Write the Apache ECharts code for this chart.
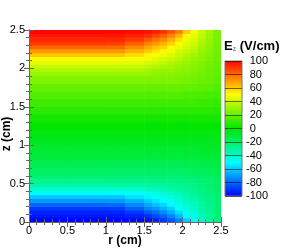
<!DOCTYPE html>
<html><head><meta charset="utf-8">
<script src="https://cdn.jsdelivr.net/npm/echarts@6/dist/echarts.min.js"></script>
<style>html,body{margin:0;padding:0;background:#fff}#c{width:282px;height:250px}</style>
</head><body><div id="c"></div>
<script>
const rTicks = [0, 0.5, 1, 1.5, 2, 2.5];
const zTicks = [0, 0.5, 1, 1.5, 2, 2.5];
const cbTicks = [-100, -80, -60, -40, -20, 0, 20, 40, 60, 80, 100];
const colorStops = ['#0000ff', '#00ffff', '#00e600', '#ffff00', '#ff0000'];
const rEdges = [0, 0.5, 1, 1.25, 1.5, 1.6, 1.7, 1.8, 1.9, 2, 2.1, 2.2, 2.3, 2.4, 2.5];
const zEdges = [0, 0.05, 0.1, 0.15, 0.2, 0.25, 0.3, 0.35, 0.4, 0.45, 0.5, 0.55, 0.6,
  0.7, 0.8, 0.9, 1.0, 1.1, 1.2, 1.3, 1.4, 1.5, 1.6, 1.7, 1.8, 1.9,
  1.95, 2.0, 2.05, 2.1, 2.15, 2.2, 2.25, 2.3, 2.35, 2.4, 2.45, 2.5];
// Ez (V/cm), rows from z=0 upwards, columns follow rEdges cells
const Ez = [
  [-99,-99,-99,-98,-97,-94,-90,-83,-75,-60,-48,-39,-31,-24],
  [-96,-96,-96,-94,-91,-86,-81,-74,-65,-51,-45,-37,-30,-24],
  [-93,-93,-93,-89,-83,-78,-73,-66,-56,-47,-43,-35,-29,-23],
  [-89,-89,-88,-81,-74,-70,-65,-59,-49,-44,-40,-33,-28,-23],
  [-80,-80,-79,-73,-67,-62,-58,-51,-46,-41,-38,-31,-27,-22],
  [-70,-70,-70,-65,-60,-55,-51,-47,-42,-38,-35,-29,-26,-22],
  [-61,-61,-61,-56,-52,-49,-46,-43,-39,-35,-32,-28,-25,-21],
  [-51,-51,-51,-49,-47,-44,-42,-39,-36,-33,-30,-27,-24,-21],
  [-41,-41,-41,-40,-39,-37,-35,-33,-31,-29,-27,-25,-23,-20],
  [-33,-33,-33,-33,-33,-32,-31,-30,-29,-28,-26,-24,-22,-20],
  [-28,-28,-28,-28,-28,-27,-27,-27,-26,-25,-24,-22,-21,-19],
  [-24,-24,-24,-24,-24,-24,-24,-24,-23,-23,-22,-21,-20,-18],
  [-20,-20,-20,-20,-20,-20,-20,-20,-20,-19,-19,-18,-17,-16],
  [-16,-16,-16,-16,-16,-16,-16,-16,-16,-15,-15,-15,-14,-13],
  [-12,-12,-12,-12,-12,-12,-12,-12,-12,-12,-12,-11,-11,-10],
  [-9,-9,-9,-9,-9,-9,-9,-9,-9,-9,-9,-8,-8,-8],
  [-6,-6,-6,-6,-6,-6,-6,-6,-6,-6,-6,-6,-6,-5],
  [-3,-3,-3,-3,-3,-3,-3,-3,-3,-3,-3,-3,-3,-3],
  [0,0,0,0,0,0,0,0,0,0,0,0,0,0],
  [4,4,4,4,4,4,4,4,4,4,4,4,4,4],
  [8,8,8,8,8,8,8,8,8,8,8,8,8,7],
  [12,12,12,12,12,12,12,12,12,12,12,11,11,10],
  [16,16,16,16,16,16,16,16,16,15,15,15,14,13],
  [20,20,20,20,20,20,20,20,20,19,19,18,18,16],
  [25,25,25,25,25,25,25,25,24,23,22,21,20,18],
  [29,29,29,29,29,28,27,27,26,25,24,22,21,19],
  [34,34,34,34,32,30,29,29,28,27,25,23,21,19],
  [39,39,39,39,37,35,33,31,30,28,26,24,22,20],
  [45,45,45,44,42,40,37,35,32,30,28,25,23,20],
  [51,51,51,49,47,44,42,39,36,33,30,27,24,21],
  [61,61,61,56,52,49,46,43,39,35,32,28,25,21],
  [70,70,70,65,60,55,51,47,42,38,35,29,26,22],
  [80,80,79,73,67,62,58,51,46,41,38,31,27,22],
  [89,89,88,81,74,70,65,59,49,44,40,33,28,23],
  [93,93,93,89,83,78,73,66,56,47,43,35,29,23],
  [96,96,96,94,91,86,81,74,65,51,45,37,30,24],
  [99,99,99,98,97,94,90,83,75,60,48,39,31,24]
];

const cells = [];
for (let i = 0; i < Ez.length; i++) {
  for (let j = 0; j < Ez[i].length; j++) {
    cells.push([rEdges[j], rEdges[j + 1], zEdges[i], zEdges[i + 1], Ez[i][j]]);
  }
}
const FONT = 'Liberation Sans, Arial, sans-serif';
const AX = '#666';
const chart = echarts.init(document.getElementById('c'), null, {renderer: 'canvas'});
function mainAxis(pos, ticks, labels) {
  return {
    type: 'value', gridIndex: 0, position: pos,
    min: ticks[0], max: ticks[ticks.length - 1], interval: ticks[1] - ticks[0],
    axisLine: {show: true, lineStyle: {color: AX, width: 1}},
    axisTick: {show: true, inside: true, length: 5, lineStyle: {color: AX}},
    minorTick: {show: true, splitNumber: 5, length: 3, lineStyle: {color: AX}},
    splitLine: {show: false},
    axisLabel: {show: labels, fontSize: 11, color: '#000', fontFamily: FONT,
      margin: (pos === 'bottom') ? 3 : 4, hideOverlap: false,
      formatter: v => String(v)},
    z: 5
  };
}
const xB = mainAxis('bottom', rTicks, true);
xB.name = 'r (cm)'; xB.nameLocation = 'middle'; xB.nameGap = 13; xB.nameMoveOverlap = false;
xB.nameTextStyle = {fontSize: 12, fontWeight: 'bold', color: '#000', fontFamily: FONT};
const yL = mainAxis('left', zTicks, true);
yL.name = 'z (cm)'; yL.nameLocation = 'middle'; yL.nameGap = 16; yL.nameRotate = 90; yL.nameMoveOverlap = false;
yL.nameTextStyle = {fontSize: 12, fontWeight: 'bold', color: '#000', fontFamily: FONT, padding: [0, 16, 0, 0]};

const option = {
  animation: false,
  title: {
    text: '{a|E}{b|z}{a| (V/cm)}', left: 224, top: 40, padding: 0,
    textStyle: {rich: {
      a: {fontSize: 13, color: '#000', fontFamily: FONT},
      b: {fontSize: 7, color: '#999', fontFamily: FONT, verticalAlign: 'bottom', padding: [6, 0, 0, 0]}
    }}
  },
  grid: [
    {left: 29, top: 30, width: 192, height: 192, containLabel: false, outerBoundsMode: 'none'},
    {left: 225, top: 61, width: 17, height: 135, containLabel: false, outerBoundsMode: 'none'}
  ],
  xAxis: [
    xB,
    mainAxis('top', rTicks, false),
    {type: 'value', gridIndex: 1, min: 0, max: 1, show: false}
  ],
  yAxis: [
    yL,
    mainAxis('right', zTicks, false),
    {type: 'value', gridIndex: 1, position: 'right',
      min: cbTicks[0], max: cbTicks[cbTicks.length - 1], interval: cbTicks[1] - cbTicks[0],
      axisLine: {show: false}, axisTick: {show: false},
      splitLine: {show: true, lineStyle: {color: 'rgba(0,0,0,0.55)', width: 1}},
      axisLabel: {fontSize: 11, color: '#000', fontFamily: FONT, margin: 4, hideOverlap: false,
        formatter: v => v < 0 ? String(v) : '{h|-}' + v,
        rich: {h: {color: 'rgba(0,0,0,0)', fontSize: 11, fontFamily: FONT}}},
      z: 5}
  ],
  visualMap: {
    type: 'continuous', show: false, min: cbTicks[0], max: cbTicks[cbTicks.length - 1],
    dimension: 4, seriesIndex: 0, inRange: {color: colorStops}
  },
  series: [
    {
      type: 'custom', xAxisIndex: 0, yAxisIndex: 0, clip: true,
      encode: {x: [0, 1], y: [2, 3]},
      data: cells,
      renderItem: function (params, api) {
        const p0 = api.coord([api.value(0), api.value(2)]);
        const p1 = api.coord([api.value(1), api.value(3)]);
        const c = api.visual('color');
        return {type: 'rect',
          shape: {x: p0[0], y: p1[1] - 0.5, width: p1[0] - p0[0] + 0.6, height: p0[1] - p1[1] + 0.6},
          style: {fill: c, stroke: null}};
      }
    },
    {
      type: 'custom', xAxisIndex: 2, yAxisIndex: 2,
      encode: {x: [0, 1], y: [2, 3]},
      data: [[0, 1, cbTicks[0], cbTicks[cbTicks.length - 1]]],
      renderItem: function (params, api) {
        const p0 = api.coord([api.value(0), api.value(2)]);
        const p1 = api.coord([api.value(1), api.value(3)]);
        const stops = colorStops.map((c, k) => ({offset: k / (colorStops.length - 1), color: c}));
        return {type: 'rect',
          shape: {x: p0[0], y: p1[1], width: p1[0] - p0[0], height: p0[1] - p1[1]},
          style: {fill: new echarts.graphic.LinearGradient(0, 1, 0, 0, stops), stroke: '#777', lineWidth: 1}};
      }
    }
  ]
};
chart.setOption(option);
</script></body></html>
